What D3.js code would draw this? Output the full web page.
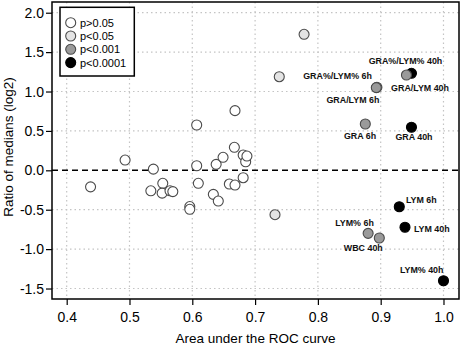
<!DOCTYPE html>
<html>
<head>
<meta charset="utf-8">
<script src="https://cdn.jsdelivr.net/npm/d3@7"></script>
<style>
  body { margin: 0; background: #fff; }
  svg { font-family: "Liberation Sans", Arial, sans-serif; }
</style>
</head>
<body>
<svg id="chart"></svg>
<script>
// values
const auc = [0.438, 0.493, 0.534, 0.538, 0.553, 0.552, 0.5645, 0.569, 0.596, 0.596,
             0.607, 0.607, 0.6096, 0.6335, 0.638, 0.6414, 0.649, 0.659, 0.667, 0.668,
             0.668, 0.681, 0.681, 0.685, 0.687,
             0.7385, 0.778, 0.7317,
             0.8755, 0.894, 0.893, 0.880, 0.8978,
             0.949, 0.941, 0.949, 0.9296, 0.9387, 1.0];
const ratio = [-0.21, 0.13, -0.26, 0.015, -0.165, -0.29, -0.26, -0.27, -0.46, -0.495,
               0.575, 0.058, -0.165, -0.305, 0.076, -0.39, 0.165, -0.174, 0.292, 0.757,
               -0.187, 0.194, -0.094, 0.109, 0.181,
               1.188, 1.726, -0.563,
               0.588, 1.053, 1.05, -0.80, -0.859,
               1.231, 1.209, 0.546, -0.462, -0.723, -1.401];
// 0: p>0.05, 1: p<0.05, 2: p<0.001, 3: p<0.0001
const pclass = [0, 0, 0, 0, 0, 0, 0, 0, 0, 0,
                0, 0, 0, 0, 0, 0, 0, 0, 0, 0,
                0, 0, 0, 0, 0,
                1, 1, 1,
                2, 2, 2, 2, 2,
                3, 2, 3, 3, 3, 3];
const names = ['', '', '', '', '', '', '', '', '', '',
               '', '', '', '', '', '', '', '', '', '',
               '', '', '', '', '',
               '', '', '',
               'GRA 6h', 'GRA%/LYM% 6h', 'GRA/LYM 6h', 'LYM% 6h', 'WBC 40h',
               'GRA%/LYM% 40h', 'GRA/LYM 40h', 'GRA 40h', 'LYM 6h', 'LYM 40h', 'LYM% 40h'];
const legendLabels = ['p>0.05', 'p<0.05', 'p<0.001', 'p<0.0001'];
const xTicks = [0.4, 0.5, 0.6, 0.7, 0.8, 0.9, 1.0];
const yTicks = [-1.5, -1.0, -0.5, 0.0, 0.5, 1.0, 1.5, 2.0];

const width = 461, height = 348;
const box = { left: 52, right: 459, top: 2, bottom: 299 };
const fills = ['#ffffff', '#e4e4e4', '#9a9a9a', '#000000'];

const svg = d3.select('#chart').attr('width', width).attr('height', height);

const x = d3.scaleLinear().domain([0.3766, 1.0247]).range([box.left, box.right]);
const y = d3.scaleLinear().domain([-1.633, 2.136]).range([box.bottom, box.top]);

// grid
svg.append('g').selectAll('line.gx').data(xTicks).join('line')
    .attr('x1', d => x(d)).attr('x2', d => x(d))
    .attr('y1', box.top).attr('y2', box.bottom)
    .attr('stroke', '#c4c4c4').attr('stroke-width', 1.2).attr('stroke-dasharray', '1.5,3');
svg.append('g').selectAll('line.gy').data(yTicks.filter(d => d !== 0)).join('line')
    .attr('x1', box.left).attr('x2', box.right)
    .attr('y1', d => y(d)).attr('y2', d => y(d))
    .attr('stroke', '#c4c4c4').attr('stroke-width', 1.2).attr('stroke-dasharray', '1.5,3');

// zero line
svg.append('line')
    .attr('x1', box.left).attr('x2', box.right)
    .attr('y1', y(0)).attr('y2', y(0))
    .attr('stroke', '#000').attr('stroke-width', 1.6).attr('stroke-dasharray', '6,4');

// axes
const fmt = d => d.toFixed(1);
const xaxis = svg.append('g')
    .attr('transform', `translate(0, ${box.bottom})`)
    .call(d3.axisBottom(x).tickValues(xTicks).tickFormat(fmt).tickSize(6).tickPadding(7.5).tickSizeOuter(0));
const yaxis = svg.append('g')
    .attr('transform', `translate(${box.left}, 0)`)
    .call(d3.axisLeft(y).tickValues(yTicks).tickFormat(fmt).tickSize(6).tickPadding(2).tickSizeOuter(0));
[xaxis, yaxis].forEach(g => {
    g.select('.domain').remove();
    g.selectAll('line').attr('stroke', '#000').attr('stroke-width', 1.2);
    g.selectAll('text').attr('font-size', 14).attr('fill', '#000')
        .attr('font-family', '"Liberation Sans", Arial, sans-serif');
});

// frame
svg.append('rect')
    .attr('x', box.left).attr('y', box.top)
    .attr('width', box.right - box.left).attr('height', box.bottom - box.top)
    .attr('fill', 'none').attr('stroke', '#000').attr('stroke-width', 1.5);

// points
const points = auc.map((a, i) => ({ a, r: ratio[i], p: pclass[i], name: names[i] }));
svg.append('g').selectAll('circle').data(points).join('circle')
    .attr('cx', d => x(d.a)).attr('cy', d => y(d.r)).attr('r', 5)
    .attr('fill', d => fills[d.p])
    .attr('stroke', d => d.p === 3 ? '#000' : '#4a4a4a')
    .attr('stroke-width', 1.1);

// point labels
const labelPos = {
    'GRA%/LYM% 40h': ['middle', -6, -9.3],
    'GRA%/LYM% 6h': ['end', -5, -8],
    'GRA/LYM 40h': ['middle', 13.6, 15.7],
    'GRA/LYM 6h': ['middle', -23.4, 15],
    'GRA 6h': ['middle', -5.3, 15.3],
    'GRA 40h': ['middle', 2.5, 12.7],
    'LYM 6h': ['start', 6.7, -3.4],
    'LYM% 6h': ['middle', -13.6, -7.6],
    'LYM 40h': ['start', 9, 5],
    'WBC 40h': ['middle', -16, 13.3],
    'LYM% 40h': ['middle', -21.8, -7.4]
};
svg.append('g').selectAll('text').data(points.filter(d => d.name)).join('text')
    .attr('x', d => x(d.a) + labelPos[d.name][1])
    .attr('y', d => y(d.r) + labelPos[d.name][2])
    .attr('text-anchor', d => labelPos[d.name][0])
    .attr('font-size', 8.9).attr('font-weight', 'bold').attr('fill', '#111')
    .text(d => d.name);

// legend
const lg = svg.append('g');
lg.append('rect').attr('x', 60).attr('y', 7.3).attr('width', 74.3).attr('height', 68.7)
    .attr('fill', '#fff').attr('stroke', '#000').attr('stroke-width', 1.5);
lg.selectAll('circle').data(legendLabels).join('circle')
    .attr('cx', 70.7).attr('cy', (d, i) => 22.7 + i * 13.3).attr('r', 5)
    .attr('fill', (d, i) => fills[i])
    .attr('stroke', (d, i) => i === 3 ? '#000' : '#4a4a4a').attr('stroke-width', 1.1);
lg.selectAll('text').data(legendLabels).join('text')
    .attr('x', 80).attr('y', (d, i) => 22.7 + i * 13.3 + 4)
    .attr('font-size', 11).attr('fill', '#000')
    .text(d => d);

// axis titles
svg.append('text')
    .attr('x', (box.left + box.right) / 2).attr('y', 342.7)
    .attr('text-anchor', 'middle').attr('font-size', 13.5)
    .text('Area under the ROC curve');
svg.append('text')
    .attr('transform', 'rotate(-90)')
    .attr('x', -147).attr('y', 13)
    .attr('text-anchor', 'middle').attr('font-size', 13.5)
    .text('Ratio of medians (log2)');
</script>
</body>
</html>
